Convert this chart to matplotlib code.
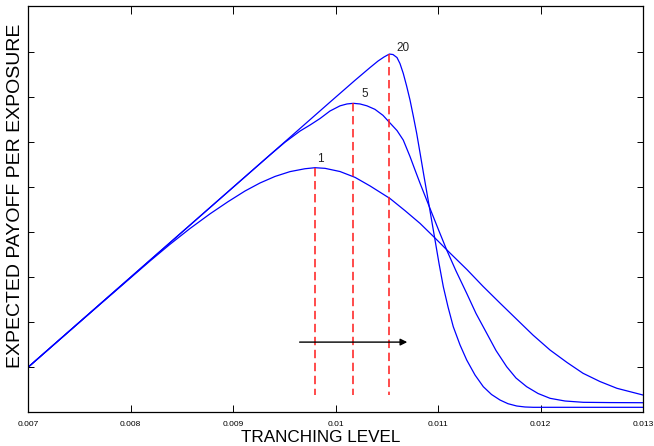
import numpy as np
import matplotlib
matplotlib.use('Agg')
import matplotlib.pyplot as plt

### data

# tranching level and expected payoff per exposure, one pair per curve
x_1 = [0.007000, 0.007702, 0.008190, 0.008385, 0.008580, 0.008776, 0.008951,
       0.009117, 0.009263, 0.009410, 0.009556, 0.009702, 0.009800, 0.009898,
       0.010044, 0.010190, 0.010337, 0.010532, 0.010678, 0.010825, 0.010971,
       0.011117, 0.011283, 0.011439, 0.011605, 0.011771, 0.011927, 0.012093,
       0.012259, 0.012415, 0.012580, 0.012746, 0.013000]
y_1 = [1.000, 2.398, 3.362, 3.733, 4.084, 4.411, 4.680,
       4.918, 5.096, 5.242, 5.349, 5.413, 5.436, 5.422,
       5.351, 5.222, 5.031, 4.751, 4.482, 4.198, 3.873,
       3.540, 3.171, 2.800, 2.427, 2.060, 1.716, 1.384,
       1.107, 0.867, 0.684, 0.533, 0.384]

x_5 = [0.007000, 0.008190, 0.009166, 0.009361, 0.009507, 0.009654, 0.009751,
       0.009849, 0.009946, 0.010044, 0.010112, 0.010174, 0.010239, 0.010307,
       0.010385, 0.010463, 0.010532, 0.010600, 0.010661, 0.010727, 0.010776,
       0.010825, 0.010915, 0.011000, 0.011085, 0.011176, 0.011280, 0.011371,
       0.011475, 0.011566, 0.011670, 0.011761, 0.011865, 0.011976, 0.012093,
       0.012239, 0.012418, 0.012678, 0.013000]
y_5 = [1.000, 3.380, 5.331, 5.720, 6.002, 6.251, 6.384,
       6.529, 6.696, 6.811, 6.853, 6.867, 6.853, 6.811,
       6.733, 6.600, 6.429, 6.262, 6.051, 5.684, 5.384,
       5.089, 4.571, 4.084, 3.607, 3.140, 2.644, 2.196,
       1.758, 1.373, 1.013, 0.762, 0.569, 0.418, 0.311,
       0.251, 0.222, 0.216, 0.213]

x_20 = [0.007000, 0.008190, 0.009166, 0.009946, 0.010190, 0.010337, 0.010415,
        0.010473, 0.010525, 0.010561, 0.010600, 0.010629, 0.010661, 0.010694,
        0.010727, 0.010759, 0.010792, 0.010825, 0.010863, 0.010915, 0.010971,
        0.011010, 0.011052, 0.011098, 0.011149, 0.011215, 0.011280, 0.011361,
        0.011442, 0.011522, 0.011605, 0.011683, 0.011768, 0.011849, 0.011930,
        0.013000]
y_20 = [1.000, 3.380, 5.331, 6.893, 7.378, 7.662, 7.807,
        7.896, 7.962, 7.951, 7.884, 7.751, 7.533, 7.251,
        6.940, 6.584, 6.200, 5.762, 5.251, 4.571, 3.829,
        3.307, 2.789, 2.340, 1.902, 1.496, 1.162, 0.829,
        0.569, 0.396, 0.273, 0.191, 0.140, 0.118, 0.111,
        0.111]

labels = ['1', '5', '20']
xticks = [0.007, 0.008, 0.009, 0.010, 0.011, 0.012, 0.013]
xtick_labels = ['0.007', '0.008', '0.009', '0.01', '0.011', '0.012', '0.013']
yticks = [1, 2, 3, 4, 5, 6, 7, 8]
arrow_x = [0.00965, 0.0107]
arrow_y = 1.56
dash_bottom = 0.39

curves = [(x_1, y_1), (x_5, y_5), (x_20, y_20)]
label_offsets = [(3.6, 6.0), (8.4, 6.7), (10.0, 4.0)]

plt.rcParams['font.family'] = ['Liberation Sans', 'DejaVu Sans']

fig = plt.figure(figsize=(6.54, 4.46), dpi=100)
ax = fig.add_axes([28/654, 33.7/446, 615/654, 406.3/446])

for (xs, ys), lab, off in zip(curves, labels, label_offsets):
    ax.plot(xs, ys, color='#0000ff', lw=0.9)
    i = int(np.argmax(ys))
    # dashed marker from the curve's maximum down
    ax.plot([xs[i], xs[i]], [ys[i], dash_bottom], color='#ff1a1a', lw=1.1,
            dashes=(5.5, 3))
    ax.annotate(lab, xy=(xs[i], ys[i]), xytext=off, textcoords='offset points',
                ha='center', va='center', fontsize=8.5, color='#222222')

ax.annotate('', xy=(arrow_x[1], arrow_y), xytext=(arrow_x[0], arrow_y),
            arrowprops=dict(arrowstyle='-|>', color='k', lw=1.0,
                            mutation_scale=10, shrinkA=0, shrinkB=0))

ax.set_xlim(0.007, 0.013)
ax.set_ylim(0, 9.03)
ax.set_xticks(xticks)
ax.set_xticklabels(xtick_labels, fontsize=6)
ax.set_yticks(yticks)
ax.set_yticklabels([])
ax.tick_params(axis='x', direction='in', length=5.4, width=0.7, top=True,
               pad=6)
ax.tick_params(axis='y', direction='in', length=4.3, width=0.7, right=True)
for s in ax.spines.values():
    s.set_linewidth(0.9)

ax.set_xlabel('TRANCHING LEVEL', fontsize=12.3)
ax.xaxis.set_label_coords(0.476, -0.061)
ax.xaxis.label.set_va('center')
ax.set_ylabel('EXPECTED PAYOFF PER EXPOSURE', fontsize=14)
ax.yaxis.set_label_coords(-0.021, 0.532)
ax.yaxis.label.set_va('center')

fig.savefig('out.png', dpi=100)
plt.close(fig)
